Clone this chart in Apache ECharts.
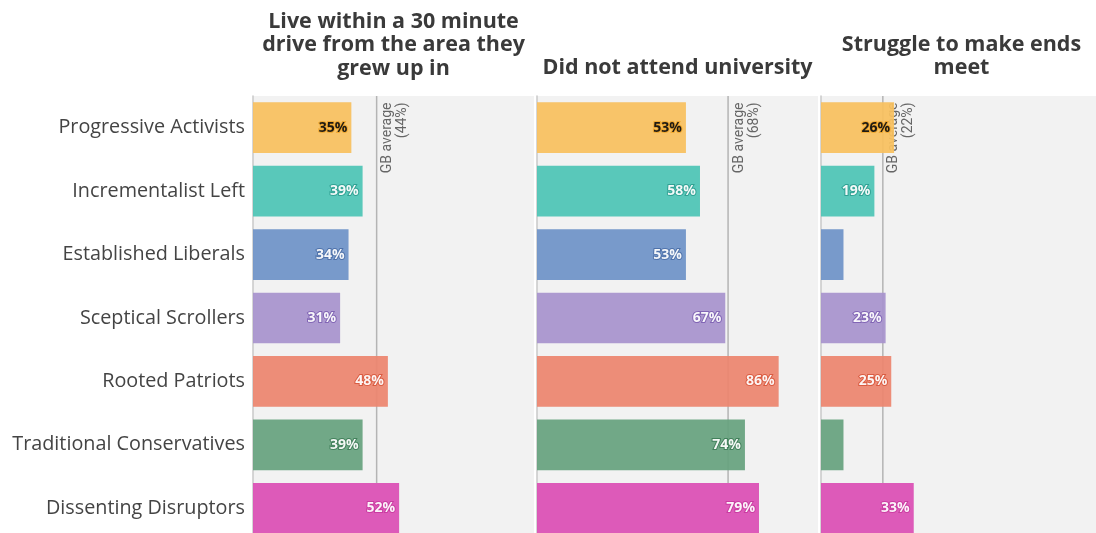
<!DOCTYPE html>
<html><head><meta charset="utf-8">
<script src="https://cdn.jsdelivr.net/npm/echarts@6/dist/echarts.min.js"></script>
<style>html,body{margin:0;padding:0;background:#fff}#c{width:1096px;height:533px}</style>
</head><body><div id="c"></div>
<script>
const categories = ['Progressive Activists','Incrementalist Left','Established Liberals','Sceptical Scrollers','Rooted Patriots','Traditional Conservatives','Dissenting Disruptors'];
const panelTitles = ['Live within a 30 minute\ndrive from the area they\ngrew up in','Did not attend university','Struggle to make ends\nmeet'];
const liveNearby = [35,39,34,31,48,39,52];
const noUniversity = [53,58,53,67,86,74,79];
const struggleEnds = [26,19,8,23,25,8,33];
const gbAverage = [44,68,22];

const barColors = ['#F8C060','#4FC5B6','#7094C8','#A894CD','#EC8670','#68A380','#DB50B5'];
const labelText = ['#111','#fff','#fff','#fff','#fff','#fff','#fff'];
const labelBorder = ['#F0A830','#2E9E90','#4C70A8','#7E62B2','#D9583E','#3F7D58','#C93A9F'];

const panels = [liveNearby, noUniversity, struggleEnds];
const lefts = [253, 537, 821];
const width = 281;
const titleTops = [10, 56, 33];

const FONT = '"Open Sans", sans-serif';
const grids = [], xAxes = [], yAxes = [], series = [], titles = [];
panels.forEach((vals, i) => {
  grids.push({left: lefts[i], width: width, top: 96, bottom: -7, outerBoundsMode: 'none', show: true, backgroundColor: '#F2F2F2', borderWidth: 0, containLabel: false});
  xAxes.push({gridIndex: i, type: 'value', min: 0, max: 100, show: false});
  yAxes.push({gridIndex: i, type: 'category', data: categories, inverse: true,
    axisLine: {show: true, lineStyle: {color: '#C8C8C8', width: 1.5}},
    axisTick: {show: false}, splitLine: {show: false},
    axisLabel: {show: i === 0, fontSize: 19.8, color: '#444', fontFamily: FONT, margin: 8}});
  yAxes.push({gridIndex: i, type: 'value', min: -0.5, max: 6.5, inverse: true, show: false});
  series.push({
    type: 'bar', xAxisIndex: i, yAxisIndex: 2 * i, barCategoryGap: '20%', z: 3,
    data: vals.map((v, k) => ({
      value: v,
      itemStyle: {color: barColors[k], opacity: 0.94},
      label: {show: v >= 10, color: labelText[k], textBorderColor: labelBorder[k], textBorderWidth: 2}
    })),
    label: {position: 'insideRight', distance: 4, formatter: '{c}%', fontSize: 14, fontWeight: 'bold', fontFamily: FONT}
  });
  series.push({
    type: 'line', xAxisIndex: i, yAxisIndex: 2 * i + 1, z: 2, silent: true,
    symbol: 'circle', symbolSize: 1, showSymbol: true,
    itemStyle: {color: 'transparent', borderWidth: 0},
    lineStyle: {color: '#B4B4B4', width: 1.5},
    data: [
      {value: [gbAverage[i], 5.6], label: {show: false}},
      {value: [gbAverage[i], -0.5], label: {show: true, formatter: 'GB average\n(' + gbAverage[i] + '%)',
        position: [4, 7], rotate: 90, align: 'right', verticalAlign: 'top', fontSize: 14, lineHeight: 15, color: '#666', fontFamily: 'Roboto, sans-serif'}}
    ]
  });
  titles.push({text: panelTitles[i], left: lefts[i] + width / 2, top: titleTops[i], textAlign: 'center', padding: 0,
    textStyle: {fontSize: 21.5, fontWeight: 'bold', color: '#3A3A3A', lineHeight: 23.5, fontFamily: FONT}});
});

const chart = echarts.init(document.getElementById('c'), null, {renderer: 'canvas'});
chart.setOption({animation: false, title: titles, grid: grids, xAxis: xAxes, yAxis: yAxes, series: series});
</script></body></html>
